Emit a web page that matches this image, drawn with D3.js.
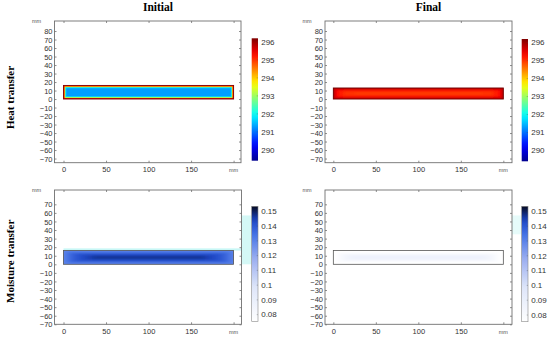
<!DOCTYPE html>
<html>
<head>
<meta charset="utf-8">
<script src="https://cdn.jsdelivr.net/npm/d3@7"></script>
<style>
  body { margin: 0; background: #fff; }
  text { font-family: "Liberation Sans", Arial, sans-serif; }
</style>
</head>
<body>
<div id="chart"></div>
<script>
// titles
var colTitles = ["Initial", "Final"];
var rowTitles = ["Heat transfer", "Moisture transfer"];

// axis ticks in mm
var xTicks = [0, 50, 100, 150, 200];
var yTicksHeat = [80, 70, 60, 50, 40, 30, 20, 10, 0, -10, -20, -30, -40, -50, -60, -70];
var yTicksMoist = [70, 60, 50, 40, 30, 20, 10, 0, -10, -20, -30, -40, -50, -60, -70];

// colour bar ticks and ranges
var heatTicks = [296, 295, 294, 293, 292, 291, 290];
var heatRange = [289.4, 296.2];
var moistTicks = [0.15, 0.14, 0.13, 0.12, 0.11, 0.1, 0.09, 0.08];
var moistRange = [0.0755, 0.1534];

// specimen size (mm)
var beamLen = 200;
var beamH = [16, 13, 16, 16]; // heat initial, heat final, moisture initial, moisture final

// field read as rings: inset from the edge (mm, along x and y) and value
var heatInitInsetX = [0, 0.7, 1.3, 1.9, 2.6, 3.4];
var heatInitInsetY = [0, 0.7, 1.3, 1.9, 2.6, 3.4];
var heatInitVal = [296, 295.1, 293.6, 292.3, 291.6, 291.3];

var heatFinalInsetX = [0, 1.2, 3, 6, 12, 25];
var heatFinalInsetY = [0, 1.0, 2.0, 3.0, 4.5, 5.8];
var heatFinalVal = [295.9, 295.6, 295.35, 295.15, 295.0, 294.9];

var moistInitInsetX = [0, 1.5, 4, 8, 13, 19, 26, 34];
var moistInitInsetY = [0, 0.9, 1.8, 2.7, 3.6, 4.5, 5.4, 6.3];
var moistInitVal = [0.129, 0.132, 0.135, 0.138, 0.141, 0.143, 0.145, 0.147];

var moistFinalInsetX = [0, 5, 10, 16, 24];
var moistFinalInsetY = [0, 2.5, 4, 5.2, 6.5];
var moistFinalVal = [0.0755, 0.079, 0.083, 0.086, 0.088];

var fields = [
  {ix: heatInitInsetX, iy: heatInitInsetY, v: heatInitVal, blur: "0.7"},
  {ix: heatFinalInsetX, iy: heatFinalInsetY, v: heatFinalVal, blur: "1.6 0.8"},
  {ix: moistInitInsetX, iy: moistInitInsetY, v: moistInitVal, blur: "3 0.9"},
  {ix: moistFinalInsetX, iy: moistFinalInsetY, v: moistFinalVal, blur: "3 1"}
];

var W = 550, H = 338;
var svg = d3.select("#chart").append("svg")
    .attr("width", W)
    .attr("height", H);

var defs = svg.append("defs");

// colour maps
var jet = d3.scaleLinear()
    .domain([0, 0.125, 0.375, 0.625, 0.875, 1])
    .range(["#00008f", "#0000ff", "#00ffff", "#ffff00", "#ff0000", "#7f0000"]);
var heatColor = function(v) {
  return jet((v - heatRange[0]) / (heatRange[1] - heatRange[0]));
};
var blues = d3.scaleLinear()
    .domain([0, 0.3, 0.55, 0.75, 0.88, 1])
    .range(["#ffffff", "#dde5f9", "#98acf0", "#4674e6", "#1c46c6", "#060a22"]);
var moistColor = function(v) {
  return blues((v - moistRange[0]) / (moistRange[1] - moistRange[0]));
};

// panel frames in pixels
var panels = [
  {left: 54.5, top: 21, w: 186.5, h: 141.7, xd: [-10.6, 208.7], yd: [-74.9, 91.8], yt: yTicksHeat, heat: true, bar: {x: 251.7, y: 38.3, h: 122.4}},
  {left: 325, top: 21, w: 187, h: 141.7, xd: [-9.8, 210.2], yd: [-74.9, 91.8], yt: yTicksHeat, heat: true, bar: {x: 521.7, y: 39, h: 122.3}},
  {left: 54.5, top: 190, w: 187, h: 134.3, xd: [-10.6, 209.3], yd: [-70, 86.7], yt: yTicksMoist, heat: false, bar: {x: 251.7, y: 206.3, h: 115}},
  {left: 325, top: 190, w: 187, h: 134.3, xd: [-9.8, 210.2], yd: [-70, 86.7], yt: yTicksMoist, heat: false, bar: {x: 521.7, y: 206.3, h: 115.4}}
];

panels.forEach(function(p, i) {
  var g = svg.append("g").attr("transform", "translate(" + p.left + "," + p.top + ")");
  var x = d3.scaleLinear().domain(p.xd).range([0, p.w]);
  var y = d3.scaleLinear().domain(p.yd).range([p.h, 0]);
  var color = p.heat ? heatColor : moistColor;
  var bh = beamH[i];
  var f = fields[i];

  defs.append("filter").attr("id", "soft" + i)
      .attr("x", "-10%").attr("y", "-60%").attr("width", "120%").attr("height", "220%")
    .append("feGaussianBlur").attr("stdDeviation", f.blur);

  // light cyan halo seen around the wet specimen
  if (i == 2) {
    g.append("rect")
      .attr("x", x(0)).attr("y", y(bh + 2.6))
      .attr("width", p.w - x(0)).attr("height", y(bh) - y(bh + 2.6))
      .attr("fill", "#c8f7f6");
    g.append("rect")
      .attr("x", p.w).attr("y", y(57))
      .attr("width", 10).attr("height", y(0) - y(57))
      .attr("fill", "#d4f8f6");
  }
  if (i == 3) {
    g.append("rect")
      .attr("x", p.w).attr("y", y(57))
      .attr("width", 9).attr("height", y(35) - y(57))
      .attr("fill", "#e6fbfa");
  }

  // frame
  g.append("rect")
    .attr("width", p.w).attr("height", p.h)
    .attr("fill", "none").attr("stroke", "#707070").attr("stroke-width", 0.9);

  // field
  var clipId = "clip" + i;
  defs.append("clipPath").attr("id", clipId)
    .append("rect")
      .attr("x", x(0)).attr("y", y(bh))
      .attr("width", x(beamLen) - x(0)).attr("height", y(0) - y(bh));

  var rings = f.v.map(function(v, k) { return {dx: f.ix[k], dy: f.iy[k], v: v}; });
  var fg = g.append("g").attr("clip-path", "url(#" + clipId + ")");
  // base fill so the blur does not fade the edge to white
  fg.append("rect")
    .attr("x", x(0) - 3).attr("y", y(bh) - 3)
    .attr("width", x(beamLen) - x(0) + 6).attr("height", y(0) - y(bh) + 6)
    .attr("fill", color(f.v[0]));
  fg.append("g").attr("filter", "url(#soft" + i + ")")
    .selectAll("rect")
    .data(rings)
    .enter().append("rect")
      .attr("x", function(d) { return x(d.dx); })
      .attr("y", function(d) { return y(bh - d.dy); })
      .attr("width", function(d) { return x(beamLen - d.dx) - x(d.dx); })
      .attr("height", function(d) { return y(d.dy) - y(bh - d.dy); })
      .attr("fill", function(d) { return color(d.v); });

  g.append("rect")
    .attr("x", x(0)).attr("y", y(bh))
    .attr("width", x(beamLen) - x(0)).attr("height", y(0) - y(bh))
    .attr("fill", "none")
    .attr("stroke", p.heat ? (i == 0 ? "#8a0000" : "#700000") : "#555")
    .attr("stroke-width", p.heat ? 0.9 : 0.8);

  // axes with inward ticks
  var ax = g.append("g").attr("transform", "translate(0," + p.h + ")")
    .call(d3.axisBottom(x).tickValues(xTicks).tickSize(-2).tickPadding(4)
      .tickFormat(function(d) { return d == 200 ? "" : d; }));
  var ay = g.append("g")
    .call(d3.axisLeft(y).tickValues(p.yt).tickSize(-2).tickPadding(2));
  var at = g.append("g")
    .call(d3.axisTop(x).tickValues(xTicks).tickSize(-2).tickFormat(""));
  var ar = g.append("g").attr("transform", "translate(" + p.w + ",0)")
    .call(d3.axisRight(y).tickValues(p.yt).tickSize(-2).tickFormat(""));
  [ax, ay, at, ar].forEach(function(a) {
    a.select(".domain").remove();
    a.selectAll("line").attr("stroke", "#707070").attr("stroke-width", 0.8);
    a.selectAll("text").attr("fill", "#333").style("font-size", "7.5px");
  });
  ay.selectAll("text").attr("dy", "0.34em");

  g.append("text")
    .attr("x", x(200)).attr("y", p.h + 9.5)
    .attr("text-anchor", "middle")
    .attr("fill", "#555").style("font-size", "5.5px")
    .text("mm");
  g.append("text")
    .attr("x", -18).attr("y", 2)
    .attr("text-anchor", "middle")
    .attr("fill", "#555").style("font-size", "5.5px")
    .text("mm");

  // colour bar
  var dom = p.heat ? heatRange : moistRange;
  var gid = "grad" + i;
  var grad = defs.append("linearGradient").attr("id", gid)
    .attr("x1", 0).attr("y1", 1).attr("x2", 0).attr("y2", 0);
  d3.range(0, 1.0001, 0.05).forEach(function(t) {
    grad.append("stop").attr("offset", t)
      .attr("stop-color", color(dom[0] + t * (dom[1] - dom[0])));
  });
  var cb = svg.append("g").attr("transform", "translate(" + p.bar.x + "," + p.bar.y + ")");
  var cy = d3.scaleLinear().domain(dom).range([p.bar.h, 0]);
  cb.append("rect")
    .attr("width", 6.3).attr("height", p.bar.h)
    .attr("fill", "url(#" + gid + ")")
    .attr("stroke", p.heat ? "none" : "#888").attr("stroke-width", 0.6);
  var ticks = p.heat ? heatTicks : moistTicks;
  cb.selectAll(".cbt")
    .data(ticks)
    .enter().append("line")
      .attr("x1", 5).attr("x2", 6.3)
      .attr("y1", function(d) { return cy(d); })
      .attr("y2", function(d) { return cy(d); })
      .attr("stroke", "#444").attr("stroke-opacity", 0.5).attr("stroke-width", 0.6);
  cb.selectAll(".cbl")
    .data(ticks)
    .enter().append("text")
      .attr("x", 9.5)
      .attr("y", function(d) { return cy(d); })
      .attr("dy", "0.35em")
      .attr("fill", "#333")
      .style("font-size", "8px")
      .text(function(d) { return d; });
});

// column titles
svg.selectAll(".coltitle")
  .data(colTitles)
  .enter().append("text")
    .attr("x", function(d, i) { return i == 0 ? 158 : 428.5; })
    .attr("y", 11)
    .attr("text-anchor", "middle")
    .style("font-family", "'Liberation Serif', serif")
    .style("font-weight", "bold")
    .style("font-size", "11.5px")
    .text(function(d) { return d; });

// row titles
svg.selectAll(".rowtitle")
  .data(rowTitles)
  .enter().append("text")
    .attr("transform", function(d, i) {
      return "translate(13.5," + (i == 0 ? 97.5 : 261.3) + ") rotate(-90)";
    })
    .attr("text-anchor", "middle")
    .style("font-family", "'Liberation Serif', serif")
    .style("font-weight", "bold")
    .style("font-size", "11px")
    .text(function(d) { return d; });
</script>
</body>
</html>
